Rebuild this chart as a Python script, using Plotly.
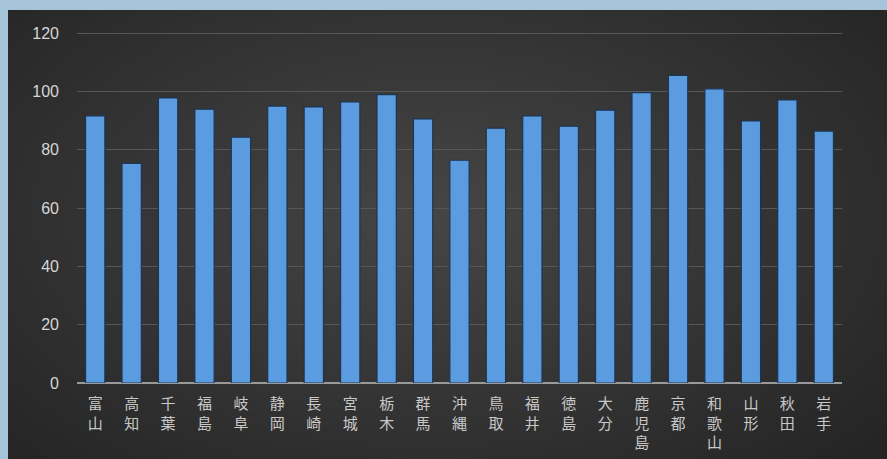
import plotly.graph_objects as go

prefectures = ["富山", "高知", "千葉", "福島", "岐阜", "静岡", "長崎", "宮城", "栃木", "群馬",
               "沖縄", "鳥取", "福井", "徳島", "大分", "鹿児島", "京都", "和歌山", "山形", "秋田", "岩手"]
values = [91.6, 75.3, 97.8, 93.9, 84.3, 95.0, 94.7, 96.4, 98.9, 90.6,
          76.4, 87.4, 91.6, 88.1, 93.6, 99.6, 105.5, 100.9, 89.9, 97.1, 86.4]
y_ticks = [0, 20, 40, 60, 80, 100, 120]

tick_text = ["<br>".join(list(p)) for p in prefectures]

W, H = 887, 459
L, R, T, B = 77, 45, 32, 76
PW, PH = W - L - R, H - T - B


def px_x(x):
    return (x - L) / PW


def px_y(y):
    return (H - y - B) / PH


shapes = []
# soft radial lightening toward the centre
cx_px, cy_px = 430, 215
n = 32
for i in range(n):
    f = 1 - i / n
    rx, ry = 580 * f, 340 * f
    shapes.append(dict(
        type="circle", xref="paper", yref="paper", layer="below",
        x0=px_x(cx_px - rx), x1=px_x(cx_px + rx),
        y0=px_y(cy_px + ry), y1=px_y(cy_px - ry),
        fillcolor="rgba(255,255,255,0.008)", line=dict(width=0),
    ))
# light-blue frame bands (top and left)
frame = "#a6c4d9"
shapes.append(dict(type="rect", xref="paper", yref="paper", layer="below",
                   x0=px_x(-5), x1=px_x(W + 5), y0=px_y(10), y1=px_y(-5),
                   fillcolor=frame, line=dict(width=0)))
shapes.append(dict(type="rect", xref="paper", yref="paper", layer="below",
                   x0=px_x(-5), x1=px_x(8), y0=px_y(H + 5), y1=px_y(-5),
                   fillcolor=frame, line=dict(width=0)))

fig = go.Figure(go.Bar(
    x=prefectures,
    y=values,
    marker=dict(color="#5b9be0", line=dict(color="#1e3550", width=1.2)),
    width=0.53,
))

fig.update_layout(
    width=W, height=H, autosize=False,
    margin=dict(l=L, r=R, t=T, b=B, pad=0, autoexpand=False),
    paper_bgcolor="#252525",
    plot_bgcolor="rgba(0,0,0,0)",
    showlegend=False,
    font=dict(family="Noto Sans CJK JP, Noto Sans, sans-serif", color="#d0d0d0"),
    shapes=shapes,
    xaxis=dict(
        tickmode="array", tickvals=prefectures, ticktext=tick_text,
        tickfont=dict(size=15, color="#c8c8c8", family="Noto Sans CJK JP"),
        showgrid=False, showline=False, ticks="", zeroline=False,
        fixedrange=True, ticklabelstandoff=10, automargin=False,
    ),
    yaxis=dict(
        range=[0, 120.4], tickvals=y_ticks,
        tickfont=dict(size=16, color="#d6d6d6", family="Liberation Sans, Noto Sans"),
        showgrid=True, gridcolor="#575757", gridwidth=1,
        zeroline=True, zerolinecolor="#9a9a9a", zerolinewidth=2,
        showline=False, ticks="", ticklabelstandoff=17, fixedrange=True,
        automargin=False,
    ),
)

fig.write_html("out.html", config={"displayModeBar": False},
               post_script="document.body.style.margin='0';document.body.style.overflow='hidden';")
